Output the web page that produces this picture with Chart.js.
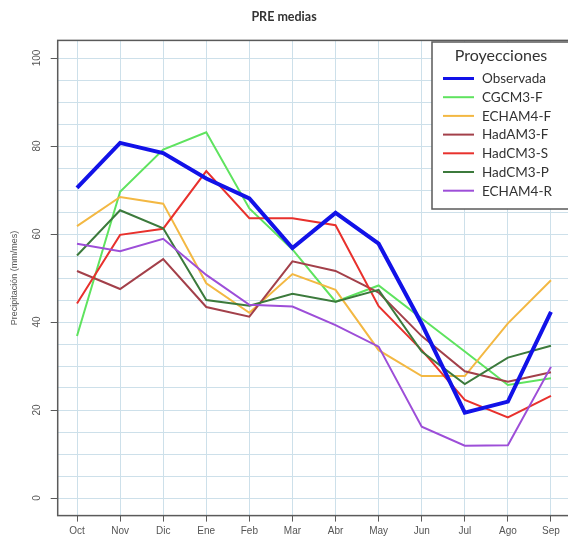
<!DOCTYPE html>
<html lang="es">
<head>
<meta charset="UTF-8">
<title>PRE medias</title>
<style>
  html, body { margin: 0; padding: 0; background: #fff; }
  #wrap { width: 568px; height: 542px; }
</style>
</head>
<body>
<div id="wrap"><canvas id="chart"></canvas></div>
<script src="https://cdn.jsdelivr.net/npm/chart.js@4/dist/chart.umd.min.js"></script>
<script>
// months along the x axis
const months = ['Oct','Nov','Dic','Ene','Feb','Mar','Abr','May','Jun','Jul','Ago','Sep'];
const yLabels = [0, 20, 40, 60, 80, 100];

// series (mm/mes)
const observada = [70.5, 80.7, 78.4, 72.6, 68.1, 56.8, 64.8, 57.8, 39.6, 19.4, 21.9, 42.3];
const cgcm3F    = [36.8, 69.6, 79.2, 83.1, 65.8, 56.5, 44.6, 48.3, 40.8, 33.3, 25.7, 27.2];
const echam4F   = [61.8, 68.4, 66.9, 48.8, 42.1, 50.9, 47.3, 33.6, 27.7, 27.7, 39.7, 49.5];
const hadam3F   = [51.6, 47.5, 54.3, 43.4, 41.2, 53.8, 51.6, 46.7, 36.8, 28.8, 26.4, 28.6];
const hadcm3S   = [44.2, 59.8, 61.2, 74.3, 63.6, 63.6, 62.0, 43.6, 33.6, 22.3, 18.3, 23.2];
const hadcm3P   = [55.1, 65.4, 61.3, 45.0, 43.7, 46.4, 44.6, 47.3, 33.3, 25.9, 31.9, 34.6];
const echam4R   = [57.8, 56.1, 58.9, 50.7, 43.9, 43.5, 39.3, 34.4, 16.2, 11.9, 12.0, 29.8];

const seriesNames  = ['Observada','CGCM3-F','ECHAM4-F','HadAM3-F','HadCM3-S','HadCM3-P','ECHAM4-R'];
const seriesValues = [observada, cgcm3F, echam4F, hadam3F, hadcm3S, hadcm3P, echam4R];
const seriesColors = ['#1212e8','#5fe35f','#f3b843','#a3404a','#e8312d','#3c7a3c','#9d4ed8'];
const seriesWidths = [4, 2, 2, 2, 2, 2, 2];

const gridColor = '#cde0ea';
const axisGrey = '#5a5a5a';

const datasets = seriesNames.map((name, i) => ({
  label: name,
  data: seriesValues[i].map((v, j) => ({ x: j + 1, y: v })),
  borderColor: seriesColors[i],
  backgroundColor: seriesColors[i],
  borderWidth: seriesWidths[i],
  pointRadius: 0,
  tension: 0,
  // observed on top, models in their own order below it
  order: i === 0 ? 0 : 8 - i
}));

// R-style box around the plot region
const framePlugin = {
  id: 'frame',
  afterDatasetsDraw(chart) {
    const a = chart.chartArea;
    const ctx = chart.ctx;
    ctx.save();
    ctx.strokeStyle = axisGrey;
    ctx.lineWidth = 1.5;
    ctx.strokeRect(a.left, a.top, a.right - a.left + 6, a.bottom - a.top);
    ctx.restore();
  }
};

// legend box in the top right corner of the plot
const boxLegend = {
  id: 'boxLegend',
  afterDraw(chart) {
    const ctx = chart.ctx;
    const a = chart.chartArea;
    const left = 432, top = 42, bottom = 209, right = a.right + 3;
    ctx.save();
    ctx.fillStyle = '#fff';
    ctx.fillRect(left, top, right - left, bottom - top);
    ctx.strokeStyle = axisGrey;
    ctx.lineWidth = 1.5;
    ctx.strokeRect(left, top, right - left, bottom - top);

    ctx.fillStyle = '#333';
    ctx.textBaseline = 'middle';
    ctx.textAlign = 'center';
    ctx.font = '16px Lato';
    ctx.fillText('Proyecciones', 501, 56);

    ctx.textAlign = 'left';
    ctx.font = '13.5px Lato';
    seriesNames.forEach((name, i) => {
      const y = 78.5 + i * 18.7;
      ctx.strokeStyle = seriesColors[i];
      ctx.lineWidth = i === 0 ? 3 : 2;
      ctx.beginPath();
      ctx.moveTo(443, y);
      ctx.lineTo(474, y);
      ctx.stroke();
      ctx.fillStyle = '#333';
      ctx.fillText(name, 482, y + 0.5);
    });
    ctx.restore();
  }
};

const ctx = document.getElementById('chart').getContext('2d');
new Chart(ctx, {
  type: 'line',
  data: { datasets },
  options: {
    responsive: true,
    maintainAspectRatio: false,
    animation: false,
    layout: { padding: 0 },
    plugins: {
      legend: { display: false },
      tooltip: { enabled: false },
      title: {
        display: true,
        text: 'PRE medias',
        color: '#333',
        font: { family: 'Lato', size: 12.5, weight: 'bold' },
        padding: { top: 9.5, bottom: 15.9 }
      }
    },
    scales: {
      x: {
        type: 'linear',
        min: 0.552,
        max: 12.395,
        afterBuildTicks: s => { s.ticks = months.map((m, i) => ({ value: i + 1 })); },
        afterFit: s => { s.height = 26.4; },
        border: { display: false },
        grid: { color: gridColor, tickColor: axisGrey, tickLength: 6, lineWidth: 1 },
        ticks: {
          padding: 4,
          color: '#555',
          font: { family: 'Liberation Sans', size: 10 },
          maxRotation: 0,
          minRotation: 0,
          callback: v => months[v - 1]
        }
      },
      y: {
        min: -4,
        max: 104,
        afterBuildTicks: s => {
          const t = [];
          for (let v = 0; v <= 100; v += 5) t.push({ value: v });
          s.ticks = t;
        },
        afterFit: s => { s.width = 57.7; },
        border: { display: false },
        grid: {
          color: gridColor,
          lineWidth: 1,
          tickLength: 7,
          tickColor: c => (yLabels.includes(c.tick.value) ? axisGrey : 'rgba(0,0,0,0)')
        },
        title: {
          display: true,
          text: 'Precipitación (mm/mes)',
          color: '#555',
          font: { family: 'Liberation Sans', size: 9 },
          padding: { top: 9.5, bottom: 0 }
        },
        ticks: {
          padding: 5,
          color: '#555',
          font: { family: 'Liberation Sans', size: 10 },
          minRotation: 90,
          maxRotation: 90,
          crossAlign: 'center',
          callback: v => (yLabels.includes(v) ? String(v) : '')
        }
      }
    }
  },
  plugins: [framePlugin, boxLegend]
});
</script>
</body>
</html>
